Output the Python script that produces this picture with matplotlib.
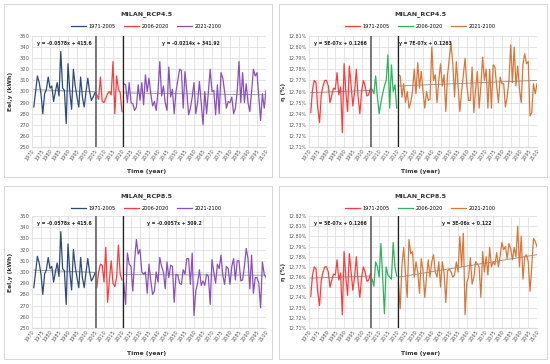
import numpy as np
import matplotlib
matplotlib.use("Agg")
import matplotlib.pyplot as plt
from matplotlib.patches import Rectangle
from matplotlib.ticker import FuncFormatter

C_HIST_E = "#2E4A7D"
C_MID_E = "#FF3B3B"
C_FUT_E = "#8A4FBF"
C_HIST_N = "#FF3B3B"
C_MID_N = "#2DB35B"
C_FUT_N = "#D9773A"
C_TREND = "#8C8C8C"

YEARS_HIST = list(range(1971, 2006))
YEARS_MID = list(range(2006, 2021))
YEARS_FUT = list(range(2021, 2101))
SEG_LABELS = ["1971-2005", "2006-2020", "2021-2100"]

# Eel,y (kWh) - historical, shared by both scenarios
eel_hist = [286, 300, 314, 308, 298, 280, 298, 302, 313, 303,
            305, 291, 300, 308, 296, 336, 303, 301, 271, 325,
            300, 284, 320, 305, 295, 286, 313, 295, 286, 300,
            312, 300, 292, 295, 299]
eel_mid_45 = [297, 293, 313, 291, 290, 294, 298, 300, 297, 327,
              280, 314, 302, 299, 282]
eel_fut_45 = [307, 306, 290, 308, 290, 289, 283, 286, 306, 292,
              308, 288, 315, 300, 312, 298, 287, 291, 283, 300,
              327, 296, 305, 290, 283, 322, 295, 302, 280, 300,
              310, 320, 319, 285, 318, 300, 279, 285, 295, 308,
              280, 290, 309, 290, 270, 300, 280, 300, 320, 300,
              301, 279, 306, 280, 317, 312, 300, 285, 291, 290,
              295, 280, 285, 300, 327, 290, 317, 290, 307, 290,
              282, 300, 320, 314, 317, 295, 274, 298, 285, 301]
eel_mid_85 = [286, 300, 307, 306, 291, 322, 273, 293, 310, 290,
              287, 295, 324, 298, 293]
eel_fut_85 = [290, 271, 317, 307, 305, 283, 310, 329, 316, 320,
              300, 298, 300, 281, 307, 292, 280, 283, 300, 291,
              313, 305, 300, 285, 309, 295, 306, 305, 273, 298,
              297, 290, 289, 302, 298, 312, 312, 289, 317, 261,
              283, 290, 302, 288, 292, 288, 298, 296, 271, 311,
              300, 290, 307, 303, 315, 297, 289, 305, 303, 289,
              305, 312, 293, 310, 310, 292, 293, 305, 321, 312,
              285, 315, 281, 295, 295, 290, 268, 309, 298, 295]

# eta (%) - historical, shared by both scenarios
eta_hist = [12.741, 12.762, 12.770, 12.768, 12.745, 12.732, 12.757, 12.765, 12.770, 12.770,
            12.765, 12.750, 12.757, 12.763, 12.762, 12.777, 12.757, 12.764, 12.723, 12.785,
            12.760, 12.742, 12.783, 12.765, 12.747, 12.760, 12.780, 12.755, 12.740, 12.760,
            12.770, 12.765, 12.756, 12.757, 12.763]
eta_mid_45 = [12.762, 12.758, 12.774, 12.755, 12.740, 12.750, 12.758, 12.765, 12.770, 12.793,
              12.745, 12.784, 12.760, 12.766, 12.745]
eta_fut_45 = [12.775, 12.774, 12.755, 12.767, 12.750, 12.760, 12.745, 12.750, 12.760, 12.780,
              12.758, 12.786, 12.763, 12.778, 12.760, 12.745, 12.760, 12.752, 12.753, 12.800,
              12.770, 12.775, 12.750, 12.770, 12.785, 12.765, 12.775, 12.742, 12.775, 12.790,
              12.803, 12.785, 12.755, 12.787, 12.765, 12.742, 12.760, 12.775, 12.790, 12.765,
              12.752, 12.752, 12.782, 12.741, 12.762, 12.778, 12.745, 12.765, 12.791, 12.770,
              12.780, 12.745, 12.780, 12.745, 12.784, 12.782, 12.765, 12.750, 12.773, 12.767,
              12.767, 12.746, 12.755, 12.770, 12.802, 12.768, 12.800, 12.765, 12.783, 12.762,
              12.750, 12.785, 12.794, 12.785, 12.787, 12.738, 12.741, 12.767, 12.758, 12.767]
eta_mid_85 = [12.758, 12.751, 12.775, 12.770, 12.760, 12.793, 12.760, 12.724, 12.770, 12.762,
              12.760, 12.758, 12.794, 12.770, 12.761]
eta_fut_85 = [12.754, 12.729, 12.772, 12.789, 12.763, 12.740, 12.797, 12.783, 12.785, 12.760,
              12.775, 12.765, 12.744, 12.778, 12.767, 12.740, 12.760, 12.777, 12.760, 12.775,
              12.782, 12.765, 12.760, 12.775, 12.750, 12.775, 12.765, 12.735, 12.766, 12.768,
              12.765, 12.760, 12.762, 12.775, 12.765, 12.800, 12.770, 12.803, 12.723, 12.755,
              12.760, 12.779, 12.753, 12.760, 12.775, 12.773, 12.770, 12.740, 12.785, 12.765,
              12.780, 12.762, 12.789, 12.770, 12.775, 12.772, 12.784, 12.770, 12.781, 12.794,
              12.787, 12.790, 12.778, 12.793, 12.788, 12.777, 12.789, 12.780, 12.810, 12.770,
              12.800, 12.758, 12.780, 12.782, 12.775, 12.746, 12.770, 12.798, 12.795, 12.790]

# trend lines (start / end values) and their labels
trend_eel_hist = [301.7, 299.7]
trend_eel_fut_45 = [298.7, 297.0]
trend_eel_fut_85 = [297.7, 297.2]
trend_eta_hist = [12.759, 12.761]
trend_eta_fut_45 = [12.765, 12.770]
trend_eta_fut_85 = [12.760, 12.782]

eq_eel_hist = "y = -0.0578x + 415.6"
eq_eel_fut_45 = "y = -0.0214x + 341.92"
eq_eel_fut_85 = "y = -0.0057x + 309.2"
eq_eta_hist = "y = 5E-07x + 0.1266"
eq_eta_fut_45 = "y = 7E-07x + 0.1263"
eq_eta_fut_85 = "y = 3E-06x + 0.122"


def draw_panel(fig, rect, title, series, colors, trends, eqs, ylim, ystep,
               ylabel, pct, title_y, leg_y, xlab_y, ylab_x):
    ax = fig.add_axes(rect)
    for (yrs, vals), c, lab in zip(series, colors, SEG_LABELS):
        ax.plot(yrs, vals, color=c, lw=0.9, label=lab)
    for (yrs, _), tr in zip([series[0], series[2]], trends):
        ax.plot([yrs[0], yrs[-1]], tr, color=C_TREND, lw=0.6, zorder=1)
    ax.axvline(2005.5, color="#555555", lw=1.1, zorder=3)
    ax.axvline(2020.5, color="#222222", lw=0.9, zorder=3)

    ax.set_xlim(1970, 2100)
    ax.set_ylim(*ylim)
    ax.set_xticks(np.arange(1970, 2101, 5))
    ax.set_yticks(np.arange(ylim[0], ylim[1] + ystep / 2, ystep))
    ax.tick_params(axis="x", labelsize=3.6, rotation=55, length=0, pad=1,
                   colors="#595959")
    ax.tick_params(axis="y", labelsize=3.4 if pct else 3.8, length=0,
                   pad=1.5, colors="#595959")
    for lbl in ax.get_xticklabels():
        lbl.set_ha("right")
        lbl.set_rotation_mode("anchor")
    if pct:
        ax.yaxis.set_major_formatter(FuncFormatter(lambda v, p: f"{v:.2f}%"))
    ax.grid(True, color="#D9D9D9", lw=0.5)
    ax.set_axisbelow(True)
    for sp in ax.spines.values():
        sp.set_visible(False)
    ax.spines["bottom"].set_visible(True)
    ax.spines["bottom"].set_color("#D9D9D9")

    yt = ylim[1] - (ylim[1] - ylim[0]) * 0.065
    ax.text(1988, yt, eqs[0], fontsize=3.3, fontweight="bold",
            ha="center", va="center", color="#222222")
    ax.text(eqs[2], yt, eqs[1], fontsize=3.3, fontweight="bold",
            ha=eqs[3], va="center", color="#222222")

    cx = rect[0] + rect[2] / 2
    fig.text(cx - 0.005, title_y, title, fontsize=4.6, fontweight="bold",
             ha="center", va="center", color="#333333")
    fig.text(cx - 0.005, xlab_y, "Time (year)", fontsize=4.3, fontweight="bold",
             ha="center", va="center", color="#333333")
    fig.text(ylab_x, rect[1] + rect[3] / 2, ylabel, fontsize=4.3, fontweight="bold",
             rotation=90, ha="center", va="center", color="#333333")
    ax.legend(loc="center", bbox_to_anchor=(cx - 0.005, leg_y), bbox_transform=fig.transFigure,
              ncol=3, frameon=False, fontsize=3.6, handlelength=3.0,
              columnspacing=1.6, handletextpad=0.5)
    return ax


fig = plt.figure(figsize=(5.5, 3.64), dpi=100)
fig.patch.set_facecolor("white")

for x0, y0 in [(4, 4), (279, 4), (4, 186), (279, 186)]:
    fig.patches.append(Rectangle((x0 / 550, 1 - (y0 + 173) / 364), 268 / 550, 173 / 364,
                                 transform=fig.transFigure, fill=False,
                                 edgecolor="#D0D0D0", lw=0.6))

draw_panel(fig, [32 / 550, 1 - 147 / 364, 234 / 550, 111 / 364], "MILAN_RCP4.5",
           [(YEARS_HIST, eel_hist), (YEARS_MID, eel_mid_45), (YEARS_FUT, eel_fut_45)],
           [C_HIST_E, C_MID_E, C_FUT_E], [trend_eel_hist, trend_eel_fut_45],
           (eq_eel_hist, eq_eel_fut_45, 2058, "center"), (250, 350), 10,
           "Eel,y (kWh)", False, 1 - 14 / 364, 1 - 26 / 364, 1 - 171 / 364, 11 / 550)

draw_panel(fig, [309 / 550, 1 - 147 / 364, 228 / 550, 111 / 364], "MILAN_RCP4.5",
           [(YEARS_HIST, eta_hist), (YEARS_MID, eta_mid_45), (YEARS_FUT, eta_fut_45)],
           [C_HIST_N, C_MID_N, C_FUT_N], [trend_eta_hist, trend_eta_fut_45],
           (eq_eta_hist, eq_eta_fut_45, 2021.5, "left"), (12.71, 12.81), 0.01,
           "η (%)", True, 1 - 14 / 364, 1 - 26 / 364, 1 - 171 / 364, 284 / 550)

draw_panel(fig, [32 / 550, 1 - 328 / 364, 234 / 550, 112 / 364], "MILAN_RCP8.5",
           [(YEARS_HIST, eel_hist), (YEARS_MID, eel_mid_85), (YEARS_FUT, eel_fut_85)],
           [C_HIST_E, C_MID_E, C_FUT_E], [trend_eel_hist, trend_eel_fut_85],
           (eq_eel_hist, eq_eel_fut_85, 2049, "center"), (250, 350), 10,
           "Eel,y (kWh)", False, 1 - 196 / 364, 1 - 208 / 364, 1 - 353 / 364, 11 / 550)

draw_panel(fig, [309 / 550, 1 - 328 / 364, 228 / 550, 112 / 364], "MILAN_RCP8.5",
           [(YEARS_HIST, eta_hist), (YEARS_MID, eta_mid_85), (YEARS_FUT, eta_fut_85)],
           [C_HIST_N, C_MID_N, C_FUT_N], [trend_eta_hist, trend_eta_fut_85],
           (eq_eta_hist, eq_eta_fut_85, 2060, "center"), (12.71, 12.82), 0.01,
           "η (%)", True, 1 - 196 / 364, 1 - 208 / 364, 1 - 353 / 364, 284 / 550)

fig.savefig("out.png", dpi=100, facecolor="white")
